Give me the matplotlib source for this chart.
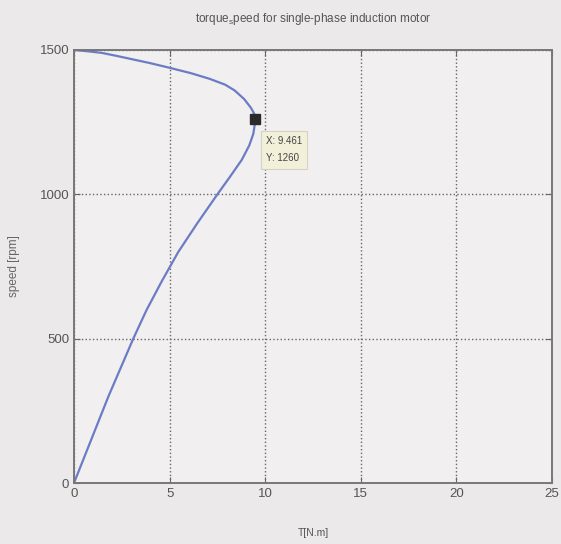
import matplotlib
matplotlib.use("Agg")
import matplotlib.pyplot as plt

# Torque-speed characteristic of a single-phase induction motor
speed_rpm = [0, 100, 200, 300, 400, 500, 600, 700, 800, 900, 1000, 1060,
             1120, 1170, 1210, 1240, 1260, 1280, 1300, 1330, 1360, 1380,
             1400, 1420, 1440, 1455, 1470, 1480, 1490, 1495, 1500]
torque_nm = [0.0, 0.6, 1.2, 1.8, 2.45, 3.1, 3.8, 4.6, 5.45, 6.45, 7.5, 8.15,
             8.78, 9.17, 9.38, 9.45, 9.461, 9.42, 9.25, 8.9, 8.4, 7.9,
             7.1, 6.1, 4.9, 3.95, 2.9, 2.2, 1.45, 0.8, 0.0]

tip_torque = 9.461
tip_speed = 1260

x_ticks = [0, 5, 10, 15, 20, 25]
y_ticks = [0, 500, 1000, 1500]

title_text = r"torque$_\mathregular{s}$peed for single-phase induction motor"
x_label = "T[N.m]"
y_label = "speed [rpm]"

plt.rcParams['font.family'] = ['Liberation Sans', 'DejaVu Sans']

fig = plt.figure(figsize=(5.61, 5.44), dpi=100, facecolor='#ebe9ea')
ax = fig.add_axes([74 / 561, (544 - 483) / 544, (552 - 74) / 561, (483 - 50) / 544])
ax.set_facecolor('#f1eff0')

ax.plot(torque_nm, speed_rpm, color='#6c7cc4', linewidth=1.6,
        solid_capstyle='round', solid_joinstyle='round')
ax.plot([tip_torque], [tip_speed], marker='s', markersize=7.5, color='#2a2a2a',
        linestyle='none')
ax.annotate(f"X: {tip_torque}\nY: {tip_speed}", xy=(tip_torque, tip_speed),
            xytext=(11, -17), textcoords='offset pixels', ha='left', va='top',
            fontsize=7, color='#444444', linespacing=1.9,
            bbox=dict(boxstyle='square,pad=0.55', facecolor='#f2f0d9',
                      edgecolor='#d4d2c4', linewidth=0.8))

ax.set_xlim(0, 25)
ax.set_ylim(0, 1500)
ax.set_xticks(x_ticks)
ax.set_yticks(y_ticks)
ax.tick_params(direction='in', length=4, width=0.8, colors='#666666',
               labelcolor='#555555', labelsize=9.5, top=True, right=True,
               labeltop=False, labelright=False)
ax.grid(True, linestyle=':', color='#666666', linewidth=1.0)

for spine in ax.spines.values():
    spine.set_color('#777777')
    spine.set_linewidth(1.4)

ax.set_title(title_text, fontsize=8.5, color='#555555', pad=20)
ax.set_xlabel(x_label, fontsize=7.5, color='#555555', labelpad=20)
ax.set_ylabel(y_label, fontsize=8.5, color='#666666', labelpad=14)

fig.savefig("out.png", dpi=100, facecolor=fig.get_facecolor())
